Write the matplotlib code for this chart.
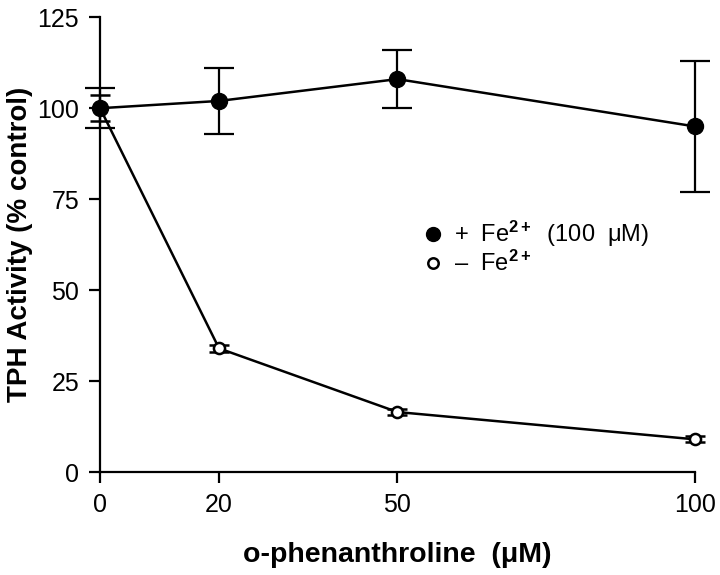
import matplotlib
matplotlib.use("Agg")
import matplotlib.pyplot as plt

# --- data ---
conc = [0, 20, 50, 100]           # o-phenanthroline (uM)
with_fe = [100, 102, 108, 95]     # + Fe2+ (100 uM)
with_fe_err = [5.5, 9, 8, 18]
no_fe = [100, 34, 16.5, 9]        # - Fe2+
no_fe_err = [3.5, 1, 0.8, 0.8]

xticks = [0, 20, 50, 100]
yticks = [0, 25, 50, 75, 100, 125]

plt.rcParams['font.family'] = ['Liberation Sans', 'DejaVu Sans']
plt.rcParams['mathtext.fontset'] = 'custom'
plt.rcParams['mathtext.rm'] = 'Liberation Sans'
plt.rcParams['mathtext.bf'] = 'Liberation Sans:bold'
plt.rcParams['mathtext.it'] = 'Liberation Sans:italic'

fig = plt.figure(figsize=(7.2, 5.75), dpi=100)
ax = fig.add_axes([0.139, 0.179, 0.826, 0.791])

# - Fe2+ (open circles)
ax.errorbar(conc, no_fe, yerr=no_fe_err, color='black', lw=1.8,
            marker='o', markersize=8, markerfacecolor='white',
            markeredgewidth=1.8, capsize=7, elinewidth=1.6, capthick=1.6,
            clip_on=False, zorder=3)
# + Fe2+ (filled circles)
ax.errorbar(conc, with_fe, yerr=with_fe_err, color='black', lw=1.8,
            marker='o', markersize=11.5, markerfacecolor='black',
            capsize=11, elinewidth=1.6, capthick=1.6,
            clip_on=False, zorder=4)

ax.set_xlim(0, 100)
ax.set_ylim(0, 125)
ax.set_xticks(xticks)
ax.set_yticks(yticks)
ax.spines['top'].set_visible(False)
ax.spines['right'].set_visible(False)
ax.spines['left'].set_linewidth(1.6)
ax.spines['bottom'].set_linewidth(1.6)
ax.tick_params(direction='out', length=8, width=1.6, labelsize=18, pad=7)

ax.set_xlabel('o-phenanthroline  (\u03bcM)', fontsize=20.5, fontweight='bold',
              labelpad=18)
ax.set_ylabel('TPH Activity (% control)', fontsize=20, fontweight='bold',
              va='center')
ax.yaxis.set_label_coords(-0.134, 0.50)

# legend drawn as text rows, no frame
ax.plot([55.9], [65.4], 'o', color='black', markersize=10, clip_on=False)
ax.plot([55.9], [57.4], 'o', color='black', markerfacecolor='white',
        markersize=7.5, markeredgewidth=1.8, clip_on=False)
ax.text(59.5, 65.4, '+  Fe$^{\\mathbf{2+}}$  (100  \u03bcM)', fontsize=17,
        va='center', ha='left')
ax.text(59.5, 57.4, '\u2013  Fe$^{\\mathbf{2+}}$', fontsize=17,
        va='center', ha='left')

fig.savefig('out.png', dpi=100)
